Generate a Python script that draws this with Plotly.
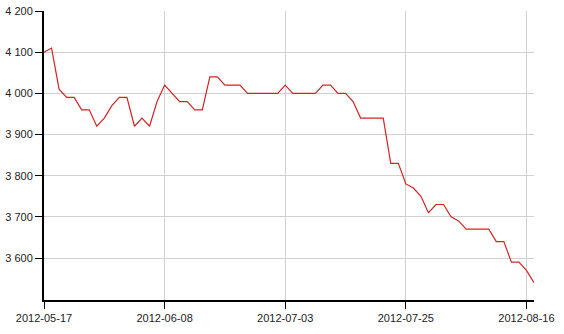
import plotly.graph_objects as go

dates = [
    "2012-05-17", "2012-05-18", "2012-05-21", "2012-05-22", "2012-05-23", "2012-05-24",
    "2012-05-25", "2012-05-28", "2012-05-29", "2012-05-30", "2012-05-31", "2012-06-01",
    "2012-06-04", "2012-06-05", "2012-06-06", "2012-06-07", "2012-06-08", "2012-06-11",
    "2012-06-12", "2012-06-13", "2012-06-14", "2012-06-15", "2012-06-18", "2012-06-19",
    "2012-06-20", "2012-06-21", "2012-06-25", "2012-06-26", "2012-06-27", "2012-06-28",
    "2012-06-29", "2012-07-02", "2012-07-03", "2012-07-04", "2012-07-05", "2012-07-06",
    "2012-07-09", "2012-07-10", "2012-07-11", "2012-07-12", "2012-07-13", "2012-07-16",
    "2012-07-17", "2012-07-18", "2012-07-19", "2012-07-20", "2012-07-23", "2012-07-24",
    "2012-07-25", "2012-07-26", "2012-07-27", "2012-07-30", "2012-07-31", "2012-08-01",
    "2012-08-02", "2012-08-03", "2012-08-06", "2012-08-07", "2012-08-08", "2012-08-09",
    "2012-08-10", "2012-08-13", "2012-08-14", "2012-08-15", "2012-08-16", "2012-08-17",
]

values = [
    4100, 4110, 4010, 3990, 3990, 3960, 3960, 3920, 3940, 3970, 3990, 3990,
    3920, 3940, 3920, 3980, 4020, 4000, 3980, 3980, 3960, 3960, 4040, 4040,
    4020, 4020, 4020, 4000, 4000, 4000, 4000, 4000, 4020, 4000, 4000, 4000,
    4000, 4020, 4020, 4000, 4000, 3980, 3940, 3940, 3940, 3940, 3830, 3830,
    3780, 3770, 3750, 3710, 3730, 3730, 3700, 3690, 3670, 3670, 3670, 3670,
    3640, 3640, 3590, 3590, 3570, 3540,
]

x_ticks = ["2012-05-17", "2012-06-08", "2012-07-03", "2012-07-25", "2012-08-16"]
y_ticks = [3600, 3700, 3800, 3900, 4000, 4100, 4200]

fig = go.Figure(
    go.Scatter(
        x=dates,
        y=values,
        mode="lines",
        line=dict(color="rgb(206,38,38)", width=1.2),
        hoverinfo="x+y",
    )
)

font = dict(family="Liberation Sans, Arial, sans-serif", size=11, color="#222222")

fig.update_layout(
    width=564,
    height=334,
    margin=dict(l=44, r=30, t=11, b=34),
    paper_bgcolor="white",
    plot_bgcolor="white",
    separators=". ",
    showlegend=False,
    font=font,
    xaxis=dict(
        type="category",
        automargin=False,
        range=[0, len(dates) - 1],
        tickmode="array",
        tickvals=x_ticks,
        ticktext=x_ticks,
        showgrid=True,
        gridcolor="#d0d0d0",
        gridwidth=1,
        showline=True,
        linecolor="black",
        linewidth=2,
        ticks="outside",
        ticklen=7,
        tickwidth=1,
        tickcolor="black",
        zeroline=False,
        tickfont=font,
    ),
    yaxis=dict(
        automargin=False,
        range=[3498, 4200],
        tickmode="array",
        tickvals=y_ticks,
        tickformat=",d",
        showgrid=True,
        gridcolor="#d0d0d0",
        gridwidth=1,
        showline=True,
        linecolor="black",
        linewidth=2,
        ticks="outside",
        ticklen=7,
        tickwidth=1,
        tickcolor="black",
        zeroline=False,
        tickfont=font,
    ),
)

fig.write_html("out.html")
